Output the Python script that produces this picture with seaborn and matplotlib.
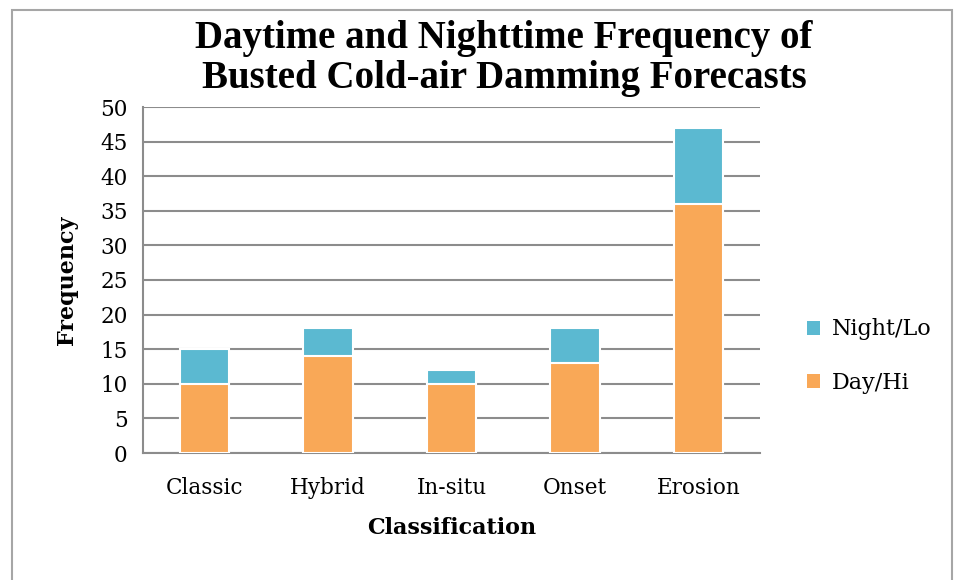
import matplotlib
matplotlib.use("Agg")
import matplotlib.pyplot as plt
import seaborn as sns
import pandas as pd
from matplotlib.patches import Patch, Rectangle

categories = ["Classic", "Hybrid", "In-situ", "Onset", "Erosion"]
day_hi = [10, 14, 10, 13, 36]
night_lo = [5, 4, 2, 5, 11]
y_ticks = [0, 5, 10, 15, 20, 25, 30, 35, 40, 45, 50]

ORANGE = "#F9A857"
TEAL = "#5BB9D1"
GRID = "#8C8C8C"

sns.set_theme(style="white")
plt.rcParams["font.family"] = ["DejaVu Serif"]
plt.rcParams["text.color"] = "black"
plt.rcParams["axes.labelcolor"] = "black"
plt.rcParams["xtick.labelcolor"] = "black"
plt.rcParams["ytick.labelcolor"] = "black"

df = pd.DataFrame({
    "Classification": categories,
    "Day": day_hi,
    "Total": [d + n for d, n in zip(day_hi, night_lo)],
})

fig = plt.figure(figsize=(9.58, 5.8), dpi=100)
ax = fig.add_axes([143/958, 1-453/580, (760-143)/958, (453-107)/580])

sns.barplot(data=df, x="Classification", y="Total", color=TEAL, width=0.4,
            edgecolor="white", linewidth=1.5, saturation=1, ax=ax, zorder=3)
sns.barplot(data=df, x="Classification", y="Day", color=ORANGE, width=0.4,
            edgecolor="white", linewidth=1.5, saturation=1, ax=ax, zorder=4)

ax.set_xlim(-0.5, len(categories) - 0.5)
ax.set_ylim(0, 50)
ax.set_yticks(y_ticks)
ax.set_yticklabels([str(v) for v in y_ticks], fontsize=15.5)
ax.set_xticks(range(len(categories)))
ax.set_xticklabels(categories, fontsize=15.5)
ax.set_xticks([i - 0.5 for i in range(len(categories) + 1)], minor=True)
ax.tick_params(axis="x", which="major", length=0, pad=17)
ax.tick_params(axis="x", which="minor", length=8, width=1.5, color=GRID, direction="out")
ax.tick_params(axis="y", which="major", length=7, width=1.5, color=GRID, direction="out", pad=4)

ax.yaxis.grid(True, color=GRID, linewidth=1.5, zorder=0)
ax.set_axisbelow(True)
for s in ["top", "right"]:
    ax.spines[s].set_visible(False)
for s in ["left", "bottom"]:
    ax.spines[s].set_color(GRID)
    ax.spines[s].set_linewidth(1.5)

ax.set_xlabel("Classification", fontsize=16, fontweight="bold", labelpad=13)
ax.set_ylabel("Frequency", fontsize=16, fontweight="bold", labelpad=16)

fig.suptitle("Daytime and Nighttime Frequency of\nBusted Cold-air Damming Forecasts",
             fontsize=28, fontweight="bold", family="Liberation Serif", color="black",
             x=(190+818)/2/958, y=1-20/580, va="top", linespacing=1.12)

handles = [Patch(facecolor=TEAL, edgecolor="none"), Patch(facecolor=ORANGE, edgecolor="none")]
fig.legend(handles, ["Night/Lo", "Day/Hi"], loc="center left",
           bbox_to_anchor=(787/958, 1-356/580), frameon=False, fontsize=16,
           handlelength=0.6, handleheight=0.6, handletextpad=0.5, labelspacing=1.4)

fig.patches.append(Rectangle((12/958, -0.1), (952-12)/958, 1.1 - 10/580,
                             transform=fig.transFigure, fill=False,
                             edgecolor="#A6A6A6", linewidth=1.5))

fig.savefig("out.png", dpi=100)
